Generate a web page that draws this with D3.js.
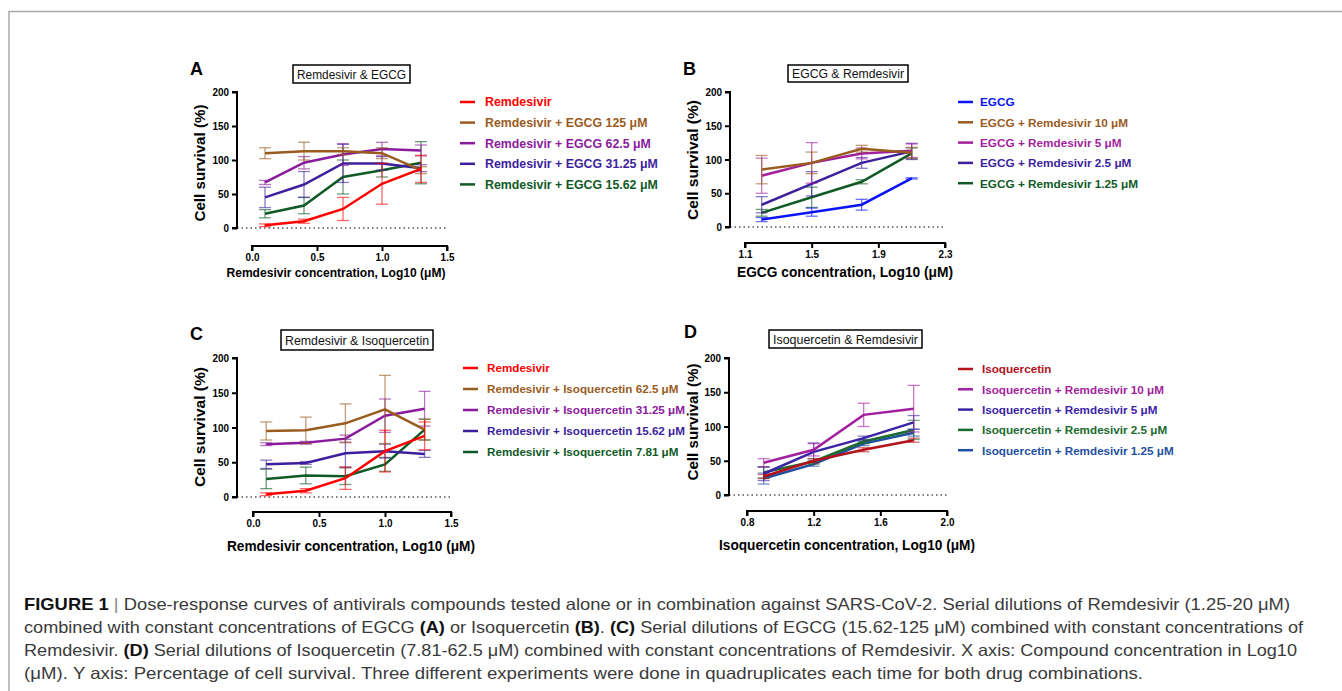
<!DOCTYPE html>
<html><head><meta charset="utf-8">
<script src="https://cdn.jsdelivr.net/npm/d3@7"></script>
<style>
html,body{margin:0;padding:0;background:#fff;}
svg{display:block;font-family:"Liberation Sans",Arial,sans-serif;}
</style></head>
<body>
<svg id="c" width="1342" height="691"></svg>
<script>
// ---------------- DATA ----------------
// Panel A: Remdesivir & EGCG
const xA = [0.1, 0.4, 0.7, 1.0, 1.3];
const namesA = ["Remdesivir","Remdesivir + EGCG 125 μM","Remdesivir + EGCG 62.5 μM","Remdesivir + EGCG 31.25 μM","Remdesivir + EGCG 15.62 μM"];
const A_rem      = [4, 10, 28, 65, 87];      const A_rem_err      = [2, 3, 17, 30, 20];
const A_egcg125  = [110, 113, 113, 110, 85]; const A_egcg125_err  = [8, 13, 5, 8, 5];
const A_egcg62   = [67, 96, 108, 116, 114];  const A_egcg62_err   = [3, 9, 16, 10, 8];
const A_egcg31   = [45, 64, 95, 95, 88];     const A_egcg31_err   = [15, 19, 28, 10, 5];
const A_egcg15   = [21, 33, 75, 85, 96];     const A_egcg15_err   = [6, 12, 25, 10, 31];

// Panel B: EGCG & Remdesivir
const xB = [1.2, 1.5, 1.8, 2.1];
const namesB = ["EGCG","EGCG + Remdesivir 10 μM","EGCG + Remdesivir 5 μM","EGCG + Remdesivir 2.5 μM","EGCG + Remdesivir 1.25 μM"];
const B_egcg   = [11, 22, 33, 72];    const B_egcg_err   = [3, 6, 8, 1];
const B_rem10  = [85, 95, 116, 110];  const B_rem10_err  = [21, 16, 5, 8];
const B_rem5   = [76, 95, 109, 113];  const B_rem5_err   = [26, 30, 8, 10];
const B_rem25  = [33, 64, 95, 112];   const B_rem25_err  = [12, 18, 8, 12];
const B_rem125 = [21, 44, 67, 109];   const B_rem125_err = [5, 15, 3, 8];

// Panel C: Remdesivir & Isoquercetin
const xC = [0.1, 0.4, 0.7, 1.0, 1.3];
const namesC = ["Remdesivir","Remdesivir + Isoquercetin 62.5 μM","Remdesivir + Isoquercetin 31.25 μM","Remdesivir + Isoquercetin 15.62 μM","Remdesivir + Isoquercetin 7.81 μM"];
const C_rem     = [4, 9, 27, 66, 88];     const C_rem_err     = [2, 3, 16, 30, 20];
const C_iso62   = [95, 96, 106, 126, 97]; const C_iso62_err   = [13, 19, 28, 49, 15];
const C_iso31   = [76, 78, 84, 117, 127]; const C_iso31_err   = [2, 2, 5, 24, 25];
const C_iso15   = [47, 49, 63, 66, 62];   const C_iso15_err   = [6, 2, 20, 10, 5];
const C_iso7    = [26, 31, 30, 47, 97];   const C_iso7_err    = [14, 12, 12, 10, 15];

// Panel D: Isoquercetin & Remdesivir
const xD = [0.9, 1.2, 1.5, 1.8];
const namesD = ["Isoquercetin","Isoquercetin + Remdesivir 10 μM","Isoquercetin + Remdesivir 5 μM","Isoquercetin + Remdesivir 2.5 μM","Isoquercetin + Remdesivir 1.25 μM"];
const D_iso     = [27, 50, 66, 80];    const D_iso_err     = [3, 3, 3, 3];
const D_rem10   = [47, 66, 117, 126];  const D_rem10_err   = [6, 9, 17, 34];
const D_rem5    = [31, 63, 83, 106];   const D_rem5_err    = [10, 13, 3, 10];
const D_rem25   = [33, 49, 78, 95];    const D_rem25_err   = [8, 4, 3, 14];
const D_rem125  = [24, 45, 75, 91];    const D_rem125_err  = [8, 3, 3, 5];

const yTicks = [0, 50, 100, 150, 200];
const xTicksA = [0.0, 0.5, 1.0, 1.5];
const xTicksB = [1.1, 1.5, 1.9, 2.3];
const xTicksC = [0.0, 0.5, 1.0, 1.5];
const xTicksD = [0.8, 1.2, 1.6, 2.0];

const captionLines = [
 [["b","FIGURE 1"],["s"," | "],["n","Dose-response curves of antivirals compounds tested alone or in combination against SARS-CoV-2. Serial dilutions of Remdesivir (1.25-20 μM)"]],
 [["n","combined with constant concentrations of EGCG "],["b","(A)"],["n"," or Isoquercetin "],["b","(B)"],["n",". "],["b","(C)"],["n"," Serial dilutions of EGCG (15.62-125 μM) combined with constant concentrations of"]],
 [["n","Remdesivir. "],["b","(D)"],["n"," Serial dilutions of Isoquercetin (7.81-62.5 μM) combined with constant concentrations of Remdesivir. X axis: Compound concentration in Log10"]],
 [["n","(μM). Y axis: Percentage of cell survival. Three different experiments were done in quadruplicates each time for both drug combinations."]]
];

// ---------------- STYLE / LAYOUT ----------------
const RED="#FF0000", BROWN="#9A5B1E", PURPLE="#8A1B9C", MAGENTA="#A21F9E", INDIGO="#3D1F9E", GREEN="#0F5A26", BLUE="#0A14F5";
const DRED="#B3121A", DINDIGO="#3A24A6", DGREEN="#1B6A2E", DBLUE="#1F4FA0";

const panels = [
 {letter:"A", letterX:190, letterY:75, title:"Remdesivir & EGCG", box:[293,65,410,83],
  x:xA, xDom:[0,1.5], xRng:[252,447], yRng:[228,92], yAxisX:237, xAxisY:246, xTicks:xTicksA,
  xLabel:"Remdesivir concentration, Log10 (μM)", xLabelC:336, xLabelY:277, xLabelW:219, xLabelFs:13.5,
  yLabelX:199, yLabelY:163, yLabelW:117, leg:{lx:460, tx:485, y0:102, dy:20.6, w:173, ref:4},
  names:namesA, colors:[RED,BROWN,PURPLE,INDIGO,GREEN],
  vals:[A_rem,A_egcg125,A_egcg62,A_egcg31,A_egcg15], errs:[A_rem_err,A_egcg125_err,A_egcg62_err,A_egcg31_err,A_egcg15_err]},
 {letter:"B", letterX:683, letterY:75, title:"EGCG & Remdesivir", box:[788,65,908,82],
  x:xB, xDom:[1.1,2.3], xRng:[745,945], yRng:[227,92], yAxisX:730, xAxisY:243, xTicks:xTicksB,
  xLabel:"EGCG concentration, Log10 (μM)", xLabelC:845, xLabelY:277, xLabelW:216, xLabelFs:15,
  yLabelX:692, yLabelY:160, yLabelW:120, leg:{lx:958, tx:980, y0:102, dy:20.3, w:158, ref:4},
  names:namesB, colors:[BLUE,BROWN,MAGENTA,INDIGO,GREEN],
  vals:[B_egcg,B_rem10,B_rem5,B_rem25,B_rem125], errs:[B_egcg_err,B_rem10_err,B_rem5_err,B_rem25_err,B_rem125_err]},
 {letter:"C", letterX:190, letterY:340, title:"Remdesivir & Isoquercetin", box:[281,330,433,350],
  x:xC, xDom:[0,1.5], xRng:[253,451], yRng:[497,358], yAxisX:237, xAxisY:512, xTicks:xTicksC,
  xLabel:"Remdesivir concentration, Log10 (μM)", xLabelC:351, xLabelY:551, xLabelW:248, xLabelFs:15,
  yLabelX:199, yLabelY:427, yLabelW:120, leg:{lx:463, tx:487, y0:368, dy:21, w:198, ref:2},
  names:namesC, colors:[RED,BROWN,PURPLE,INDIGO,GREEN],
  vals:[C_rem,C_iso62,C_iso31,C_iso15,C_iso7], errs:[C_rem_err,C_iso62_err,C_iso31_err,C_iso15_err,C_iso7_err]},
 {letter:"D", letterX:684, letterY:338, title:"Isoquercetin & Remdesivir", box:[769,330,922,348],
  x:xD, xDom:[0.8,2.0], xRng:[747,947], yRng:[495,358], yAxisX:729, xAxisY:511, xTicks:xTicksD,
  xLabel:"Isoquercetin concentration, Log10 (μM)", xLabelC:847, xLabelY:550, xLabelW:256, xLabelFs:15,
  yLabelX:692, yLabelY:422, yLabelW:117, leg:{lx:958, tx:982, y0:369, dy:20.3, w:192, ref:4},
  names:namesD, colors:[DRED,MAGENTA,DINDIGO,DGREEN,DBLUE],
  vals:[D_iso,D_rem10,D_rem5,D_rem25,D_rem125], errs:[D_iso_err,D_rem10_err,D_rem5_err,D_rem25_err,D_rem125_err]}
];

const svg = d3.select("#c");

// frame
svg.append("path").attr("d","M9,691 L9,11.5 L1342,11.5").attr("fill","none").attr("stroke","#aaaaaa").attr("stroke-width",1.5);

function squeeze(sel, target){
  sel.attr("textLength", target).attr("lengthAdjust","spacingAndGlyphs");
}
function squeezeRatio(sel, ratio){
  const w = sel.node().getComputedTextLength();
  sel.attr("textLength", w*ratio).attr("lengthAdjust","spacingAndGlyphs");
}

panels.forEach(p=>{
  const g = svg.append("g");
  const x = d3.scaleLinear().domain(p.xDom).range(p.xRng);
  const y = d3.scaleLinear().domain([0,200]).range(p.yRng);

  g.append("text").attr("x",p.letterX).attr("y",p.letterY).attr("font-size",18).attr("font-weight","bold").text(p.letter);

  // title box
  g.append("rect").attr("x",p.box[0]).attr("y",p.box[1]).attr("width",p.box[2]-p.box[0]).attr("height",p.box[3]-p.box[1])
    .attr("fill","#fff").attr("stroke","#000").attr("stroke-width",1.5);
  const tt = g.append("text").attr("x",p.box[0]+4).attr("y",(p.box[1]+p.box[3])/2+4.6)
    .attr("font-size",12.5).attr("fill","#111").text(p.title);
  squeeze(tt, p.box[2]-p.box[0]-8);

  // y axis
  const ya = g.append("g").attr("transform",`translate(${p.yAxisX},0)`)
    .call(d3.axisLeft(y).tickValues(yTicks).tickSize(5).tickPadding(3).tickFormat(d3.format("d")));
  ya.select(".domain").attr("stroke","#000").attr("stroke-width",2).attr("d",`M-5,${p.yRng[1]}H0V${p.yRng[0]}H-5`);
  ya.selectAll(".tick line").attr("stroke","#000").attr("stroke-width",2);
  ya.selectAll(".tick text").attr("font-size",11).attr("font-weight","bold").attr("fill","#000").attr("font-family","Liberation Sans, Arial")
    .each(function(){ squeezeRatio(d3.select(this), 0.9); });

  // x axis
  const xa = g.append("g").attr("transform",`translate(0,${p.xAxisY})`)
    .call(d3.axisBottom(x).tickValues(p.xTicks).tickSize(5).tickPadding(2).tickFormat(d3.format(".1f")));
  xa.select(".domain").attr("stroke","#000").attr("stroke-width",2).attr("d",`M${p.xRng[0]},5V0H${p.xRng[1]}V5`);
  xa.selectAll(".tick line").attr("stroke","#000").attr("stroke-width",2);
  xa.selectAll(".tick text").attr("font-size",11).attr("font-weight","bold").attr("fill","#000").attr("font-family","Liberation Sans, Arial")
    .each(function(){ squeezeRatio(d3.select(this), 0.9); });

  // dotted zero line
  g.append("line").attr("x1",p.yAxisX).attr("x2",p.xRng[1]).attr("y1",y(0)).attr("y2",y(0))
    .attr("stroke","#000").attr("stroke-width",1.2).attr("stroke-dasharray","1.5,3");

  // labels
  const xl = g.append("text").attr("x",p.xLabelC - p.xLabelW/2).attr("y",p.xLabelY)
    .attr("font-size",p.xLabelFs).attr("font-weight","bold").text(p.xLabel);
  squeeze(xl, p.xLabelW);
  const yl = g.append("text").attr("transform",`translate(${p.yLabelX+6},${p.yLabelY+p.yLabelW/2}) rotate(-90)`)
    .attr("font-size",15.5).attr("font-weight","bold").text("Cell survival (%)");
  squeeze(yl, p.yLabelW);

  // series (draw last-first so first series on top)
  const line = d3.line().x((d,i)=>x(p.x[i])).y(d=>y(d));
  for (let s=p.vals.length-1; s>=0; s--){
    const col = p.colors[s], v=p.vals[s], e=p.errs[s];
    const eg = g.append("g").attr("stroke",col).attr("stroke-opacity",0.6).attr("stroke-width",1.3).attr("fill","none");
    v.forEach((val,i)=>{
      const cx=x(p.x[i]), y1=y(val+e[i]), y2=y(val-e[i]);
      eg.append("line").attr("x1",cx).attr("x2",cx).attr("y1",y1).attr("y2",y2);
      eg.append("line").attr("x1",cx-6).attr("x2",cx+6).attr("y1",y1).attr("y2",y1);
      eg.append("line").attr("x1",cx-6).attr("x2",cx+6).attr("y1",y2).attr("y2",y2);
    });
    g.append("path").datum(v).attr("d",line).attr("fill","none").attr("stroke",col).attr("stroke-width",2.5);
  }

  // legend (real font size fitted to the reference width)
  const texts = [];
  p.names.forEach((n,i)=>{
    const yy = p.leg.y0 + i*p.leg.dy;
    g.append("line").attr("x1",p.leg.lx).attr("x2",p.leg.lx+15).attr("y1",yy).attr("y2",yy).attr("stroke",p.colors[i]).attr("stroke-width",2.5);
    texts.push(g.append("text").attr("x",p.leg.tx).attr("y",yy+4.4).attr("font-size",12).attr("font-weight","bold")
      .attr("fill",p.colors[i]).text(n));
  });
  const lfs = 12 * p.leg.w / texts[p.leg.ref].node().getComputedTextLength();
  texts.forEach(t=>t.attr("font-size",lfs));
});

// caption
const capW = [1266, 1279, 1273, 1119];
const cap = svg.append("g");
captionLines.forEach((ln,li)=>{
  const t = cap.append("text").attr("x",24).attr("y",610+li*23).attr("font-size",16.5).attr("fill","#3a3a3a");
  ln.forEach(([k,s])=>{
    const ts = t.append("tspan").text(s);
    if (k==="b") ts.attr("font-weight","bold").attr("fill","#111");
    if (k==="s") ts.attr("fill","#888");
  });
  squeeze(t, capW[li]);
});
</script>
</body></html>
